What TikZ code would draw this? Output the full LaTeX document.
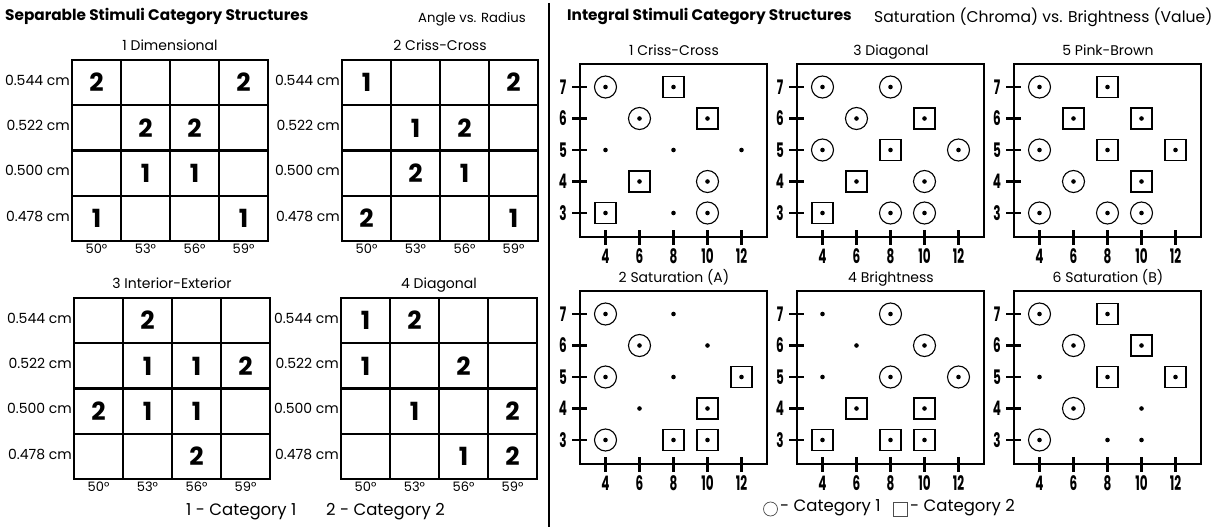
\documentclass[tikz,border=0pt]{standalone}
\usepackage{fontspec}
\setmainfont{Poppins}
\usepackage{graphicx}
\begin{document}
\begin{tikzpicture}[x=1pt,y=-1pt,
  heading/.style={font=\fontsize{15.3}{18}\selectfont\bfseries, anchor=mid west, inner sep=0pt},
  subheading/.style={font=\fontsize{13.2}{15}\selectfont, anchor=mid west, inner sep=0pt},
  wideheading/.style={font=\fontsize{15.6}{17}\selectfont, anchor=mid west, inner sep=0pt},
  paneltitle/.style={font=\fontsize{14}{16}\selectfont, anchor=mid, inner sep=0pt},
  rowlabel/.style={font=\fontsize{14}{16}\selectfont, anchor=mid east, inner sep=0pt},
  collabel/.style={font=\fontsize{13}{15}\selectfont, anchor=mid, inner sep=0pt},
  cellnum/.style={font=\fontsize{25}{27}\selectfont\bfseries, inner sep=0pt},
  gridrule/.style={line width=2.2pt},
  plotframe/.style={line width=2.6pt},
  tickrule/.style={line width=2.2pt},
  ticklabel/.style={font=\fontsize{20}{22}\selectfont\bfseries, inner sep=0pt},
  ringmark/.style={circle, draw, line width=1.1pt, minimum size=22pt, inner sep=0pt},
  boxmark/.style={rectangle, draw, line width=1.1pt, minimum size=21pt, inner sep=0pt},
  dotonly/.style={inner sep=0pt, minimum size=0pt},
  dotmark/.style={circle, fill, minimum size=4.6pt, inner sep=0pt},
  legendtext/.style={font=\fontsize{16.5}{18}\selectfont, anchor=mid west, inner sep=0pt},
]
\fill[white] (0,0) rectangle (1219,527);
\useasboundingbox (0,0) rectangle (1219,527);

% ---------- separable stimuli: 4x4 tables ----------
\newcommand\sepgrid[5]{% #1 id, #2 left, #3 top, #4 title, #5 entries col/row/digit
  \begin{scope}[shift={(#2,#3)}]
    \node[paneltitle] (#1-title) at (98,-12) {#4};
    \draw[gridrule] (0,0) rectangle (196,181);
    \foreach \k in {1,2,3}{
      \draw[gridrule] (\k*49,0) -- (\k*49,181);
      \draw[gridrule] (0,\k*45.25) -- (196,\k*45.25);
    }
    \foreach \lab [count=\j] in {0.544,0.522,0.500,0.478}
      \node[rowlabel] (#1-row\j) at (-2,{(\j-0.5)*45.25}) {\lab\ cm};
    \foreach \lab [count=\j] in {50,53,56,59}
      \node[collabel] (#1-col\j) at ({(\j-0.5)*49},191) {\lab°};
    \foreach \cc/\rr/\nn in {#5}
      \node[cellnum] (#1-c\cc r\rr) at ({(\cc-0.5)*49},{(\rr-0.5)*45.25}) {\nn};
  \end{scope}
}

% ---------- integral stimuli: saturation vs brightness plots ----------
\newcommand\intplot[5]{% #1 id, #2 left, #3 top, #4 title, #5 points x/y/kind
  \begin{scope}[shift={(#2,#3)}]
    \node[paneltitle] (#1-title) at (94,-11) {#4};
    \draw[plotframe] (0,0) rectangle (187,173);
    \foreach \v [count=\j] in {7,6,5,4,3}{
      \draw[tickrule] (-8,{23+(\j-1)*31.5}) -- (7,{23+(\j-1)*31.5});
      \node[ticklabel] (#1-y\v) at (-17,{23+(\j-1)*31.5}) {\scalebox{0.6}[1]{\v}};
    }
    \foreach \v [count=\j] in {4,6,8,10,12}{
      \draw[tickrule] ({25.5+(\j-1)*34},166) -- ({25.5+(\j-1)*34},181);
      \node[ticklabel] (#1-x\v) at ({25.5+(\j-1)*34},192) {\scalebox{0.6}[1]{\v}};
    }
    \foreach \px/\py/\kind in {#5}{
      \node[\kind] (#1-m\px-\py) at ({25.5+(\px-4)*17},{23+(7-\py)*31.5}) {};
      \node[dotmark] (#1-d\px-\py) at (#1-m\px-\py.center) {};
    }
  \end{scope}
}

% headings
\node[heading] (sep-head) at (5,18) {Separable Stimuli Category Structures};
\node[subheading] (sep-sub) at (418,20) {Angle vs. Radius};
\node[heading] (int-head) at (567,18) {Integral Stimuli Category Structures};
\node[wideheading] (int-sub) at (874,20) {Saturation (Chroma) vs. Brightness (Value)};

% divider between the two halves
\draw[line width=2.5pt] (549,3) -- (549,527);

\sepgrid{dim}{72}{60}{1 Dimensional}{1/1/2,4/1/2,2/2/2,3/2/2,2/3/1,3/3/1,1/4/1,4/4/1}
\sepgrid{cc}{342}{60}{2 Criss-Cross}{1/1/1,4/1/2,2/2/1,3/2/2,2/3/2,3/3/1,1/4/2,4/4/1}
\sepgrid{ie}{74}{298}{3 Interior-Exterior}{2/1/2,2/2/1,3/2/1,4/2/2,1/3/2,2/3/1,3/3/1,3/4/2}
\sepgrid{diag}{341}{298}{4 Diagonal}{1/1/1,2/1/2,1/2/1,3/2/2,2/3/1,4/3/2,3/4/1,4/4/2}

\node[legendtext] (sep-leg1) at (186,513) {1 - Category 1};
\node[legendtext] (sep-leg2) at (326,513) {2 - Category 2};

\intplot{icc}{580}{64}{1 Criss-Cross}{4/7/ringmark,8/7/boxmark,6/6/ringmark,10/6/boxmark,4/5/dotonly,8/5/dotonly,12/5/dotonly,6/4/boxmark,10/4/ringmark,4/3/boxmark,8/3/dotonly,10/3/ringmark}
\intplot{idg}{797}{64}{3 Diagonal}{4/7/ringmark,8/7/ringmark,6/6/ringmark,10/6/boxmark,4/5/ringmark,8/5/boxmark,12/5/ringmark,6/4/boxmark,10/4/ringmark,4/3/boxmark,8/3/ringmark,10/3/ringmark}
\intplot{ipb}{1014}{64}{5 Pink-Brown}{4/7/ringmark,8/7/boxmark,6/6/boxmark,10/6/boxmark,4/5/ringmark,8/5/boxmark,12/5/boxmark,6/4/ringmark,10/4/boxmark,4/3/ringmark,8/3/ringmark,10/3/ringmark}
\intplot{isa}{580}{291}{2 Saturation (A)}{4/7/ringmark,8/7/dotonly,6/6/ringmark,10/6/dotonly,4/5/ringmark,8/5/dotonly,12/5/boxmark,6/4/dotonly,10/4/boxmark,4/3/ringmark,8/3/boxmark,10/3/boxmark}
\intplot{ibr}{797}{291}{4 Brightness}{4/7/dotonly,8/7/ringmark,6/6/dotonly,10/6/ringmark,4/5/dotonly,8/5/ringmark,12/5/ringmark,6/4/boxmark,10/4/boxmark,4/3/boxmark,8/3/boxmark,10/3/boxmark}
\intplot{isb}{1014}{291}{6 Saturation (B)}{4/7/ringmark,8/7/boxmark,6/6/ringmark,10/6/boxmark,4/5/dotonly,8/5/boxmark,12/5/boxmark,6/4/ringmark,10/4/dotonly,4/3/ringmark,8/3/dotonly,10/3/dotonly}

% legend for the plots
\node[circle, draw=black!70, line width=0.7pt, minimum size=14pt, inner sep=0pt] (int-leg-ring) at (770.5,509) {};
\node[legendtext] (int-leg1) at (780,509) {- Category 1};
\node[rectangle, draw=black!70, line width=0.7pt, minimum size=14pt, inner sep=0pt] (int-leg-box) at (900,509) {};
\node[legendtext] (int-leg2) at (910,509) {- Category 2};
\end{tikzpicture}
\end{document}
